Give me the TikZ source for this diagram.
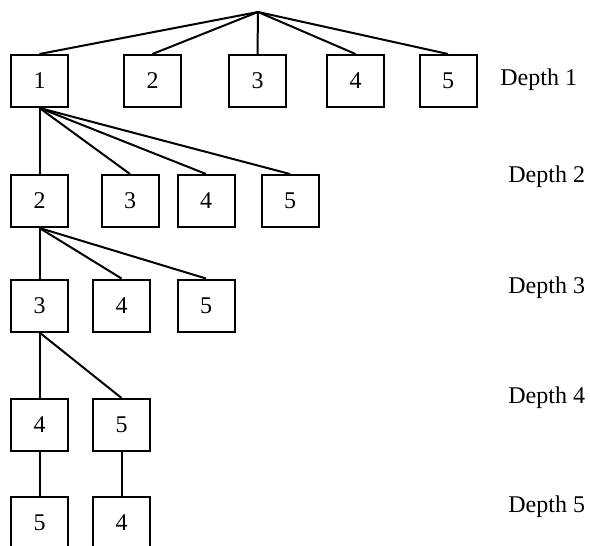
\documentclass[tikz,border=0pt]{standalone}
\usepackage{fontspec}
\setmainfont{Liberation Serif}

\tikzset{
  box/.style={draw, rectangle, line width=1pt, minimum width=28.5pt, minimum height=26pt, inner sep=0pt, font=\fontsize{12}{14}\selectfont},
  depth/.style={anchor=west, inner sep=0pt, font=\fontsize{12}{14}\selectfont},
  edge/.style={draw, line width=1pt}
}

\begin{document}
\begin{tikzpicture}[x=0.5pt, y=-0.5pt]
\useasboundingbox (0,0) rectangle (590,546);
\clip (0,0) rectangle (590,546);
\coordinate (root) at (258,12);
% depth 1
\node[box] (a1) at (39.5,81) {1};
\node[box] (a2) at (152.5,81) {2};
\node[box] (a3) at (257.5,81) {3};
\node[box] (a4) at (355.5,81) {4};
\node[box] (a5) at (448,81) {5};
% depth 2
\node[box] (b2) at (39.5,201) {2};
\node[box] (b3) at (130,201) {3};
\node[box] (b4) at (206,201) {4};
\node[box] (b5) at (290,201) {5};
% depth 3
\node[box] (c3) at (39.5,305.5) {3};
\node[box] (c4) at (121.5,305.5) {4};
\node[box] (c5) at (206,305.5) {5};
% depth 4
\node[box] (d4) at (39.5,425) {4};
\node[box] (d5) at (121.5,425) {5};
% depth 5
\node[box] (e5) at (39.5,523) {5};
\node[box] (e4) at (121.5,523) {4};
% labels
\node[depth] (l1) at (500,80) {Depth 1};
\node[depth] (l2) at (508,177) {Depth 2};
\node[depth] (l3) at (508,288) {Depth 3};
\node[depth] (l4) at (508,398) {Depth 4};
\node[depth] (l5) at (508,507) {Depth 5};
\path[edge] (root) -- (a1.north);
\path[edge] (root) -- (a2.north);
\path[edge] (root) -- (a3.north);
\path[edge] (root) -- (a4.north);
\path[edge] (root) -- (a5.north);
\path[edge] (a1.south) -- (b2.north);
\path[edge] (a1.south) -- (b3.north);
\path[edge] (a1.south) -- (b4.north);
\path[edge] (a1.south) -- (b5.north);
\path[edge] (b2.south) -- (c3.north);
\path[edge] (b2.south) -- (c4.north);
\path[edge] (b2.south) -- (c5.north);
\path[edge] (c3.south) -- (d4.north);
\path[edge] (c3.south) -- (d5.north);
\path[edge] (d4.south) -- (e5.north);
\path[edge] (d5.south) -- (e4.north);
\end{tikzpicture}
\end{document}
